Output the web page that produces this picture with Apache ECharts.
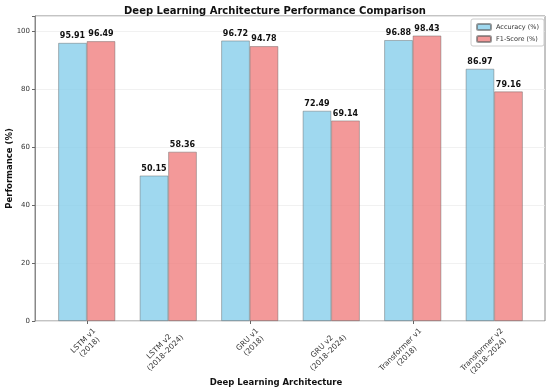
<!DOCTYPE html>
<html><head><meta charset="utf-8">
<script src="https://cdn.jsdelivr.net/npm/echarts@6/dist/echarts.min.js"></script>
<style>html,body{margin:0;padding:0;background:#fff}#c{width:550px;height:391px}</style>
</head><body><div id="c"></div>
<script>
const categories = ['LSTM v1\n(2018)', 'LSTM v2\n(2018–2024)', 'GRU v1\n(2018)', 'GRU v2\n(2018–2024)', 'Transformer v1\n(2018)', 'Transformer v2\n(2018–2024)'];
const accuracy = [95.91, 50.15, 96.72, 72.49, 96.88, 86.97];
const f1score = [96.49, 58.36, 94.78, 69.14, 98.43, 79.16];
const yTicks = [0, 20, 40, 60, 80, 100];
const xAxisTitle = 'Deep Learning Architecture';
const yAxisTitle = 'Performance (%)';

const font = 'DejaVu Sans';
const chart = echarts.init(document.getElementById('c'), null, {renderer: 'canvas'});
const yMax = 105.2;
const valLabel = {
  show: true, position: 'top', distance: 3,
  formatter: p => p.value.toFixed(2),
  fontFamily: font, fontWeight: 'bold', fontSize: 8, color: '#111'
};
const gridBase = {top: 16, bottom: 70, outerBoundsMode: 'none', containLabel: false};
chart.setOption({
  animation: false,
  title: {
    text: 'Deep Learning Architecture Performance Comparison',
    left: 'center', top: 1,
    textStyle: {fontFamily: font, fontWeight: 'bold', fontSize: 10, color: '#111'}
  },
  legend: {
    data: ['Accuracy (%)', 'F1-Score (%)'],
    orient: 'vertical', right: 6, top: 19,
    itemWidth: 14, itemHeight: 6, itemGap: 4,
    padding: [4, 5, 3, 5],
    borderColor: '#ccc', borderWidth: 1, borderRadius: 2,
    backgroundColor: '#fff',
    textStyle: {fontFamily: font, fontSize: 6.5, color: '#333'}
  },
  graphic: [
    {type: 'text', x: 276, y: 383, style: {text: xAxisTitle, fontFamily: font, fontWeight: 'bold', fontSize: 8.5, fill: '#111', align: 'center', verticalAlign: 'middle'}},
    {type: 'text', x: 10, y: 168.5, rotation: Math.PI / 2, style: {text: yAxisTitle, fontFamily: font, fontWeight: 'bold', fontSize: 8.5, fill: '#111', align: 'center', verticalAlign: 'middle'}}
  ],
  grid: [
    Object.assign({left: 35, right: 5, show: true, borderColor: '#888', borderWidth: 1, backgroundColor: 'transparent'}, gridBase),
    Object.assign({left: 46, right: 15}, gridBase),
    Object.assign({left: 57, right: 4}, gridBase)
  ],
  xAxis: [
    {gridIndex: 0, type: 'value', min: 0, max: 1, show: false},
    {
      gridIndex: 1, type: 'category', data: categories,
      axisLine: {show: false},
      axisTick: {show: true, alignWithLabel: true, length: 3, lineStyle: {color: '#666'}},
      axisLabel: {show: false}
    },
    {
      gridIndex: 2, type: 'category', data: categories,
      axisLine: {show: false}, axisTick: {show: false},
      axisLabel: {
        rotate: 45, fontFamily: font, fontSize: 7.5, color: '#333', margin: 12,
        formatter: v => v.split('\n').map(s => '{c|' + s + '}').join('\n'),
        rich: {c: {align: 'center', fontFamily: font, fontSize: 7.5, color: '#333', lineHeight: 9}}
      }
    }
  ],
  yAxis: [
    {
      gridIndex: 0, type: 'value', min: 0, max: yMax, interval: 20,
      axisLine: {show: true, lineStyle: {color: '#888'}},
      axisTick: {show: true, length: 3, lineStyle: {color: '#666'}},
      axisLabel: {fontFamily: font, fontSize: 7, color: '#333', margin: 5,
        formatter: v => yTicks.includes(v) ? String(v) : ''},
      splitLine: {show: true, lineStyle: {color: '#eeeeee', width: 0.8}}
    },
    {gridIndex: 1, type: 'value', min: 0, max: yMax, show: false},
    {gridIndex: 2, type: 'value', min: 0, max: yMax, show: false}
  ],
  series: [
    {
      name: 'Accuracy (%)', type: 'bar', xAxisIndex: 1, yAxisIndex: 1,
      data: accuracy, barWidth: 28.5, barGap: '0%',
      itemStyle: {color: 'rgba(135,206,235,0.8)', borderColor: 'rgba(90,90,90,0.6)', borderWidth: 0.7},
      label: valLabel
    },
    {
      name: 'F1-Score (%)', type: 'bar', xAxisIndex: 1, yAxisIndex: 1,
      data: f1score, barWidth: 28.5, barGap: '0%',
      itemStyle: {color: 'rgba(240,128,128,0.8)', borderColor: 'rgba(90,90,90,0.6)', borderWidth: 0.7},
      label: valLabel
    }
  ]
});
</script></body></html>
